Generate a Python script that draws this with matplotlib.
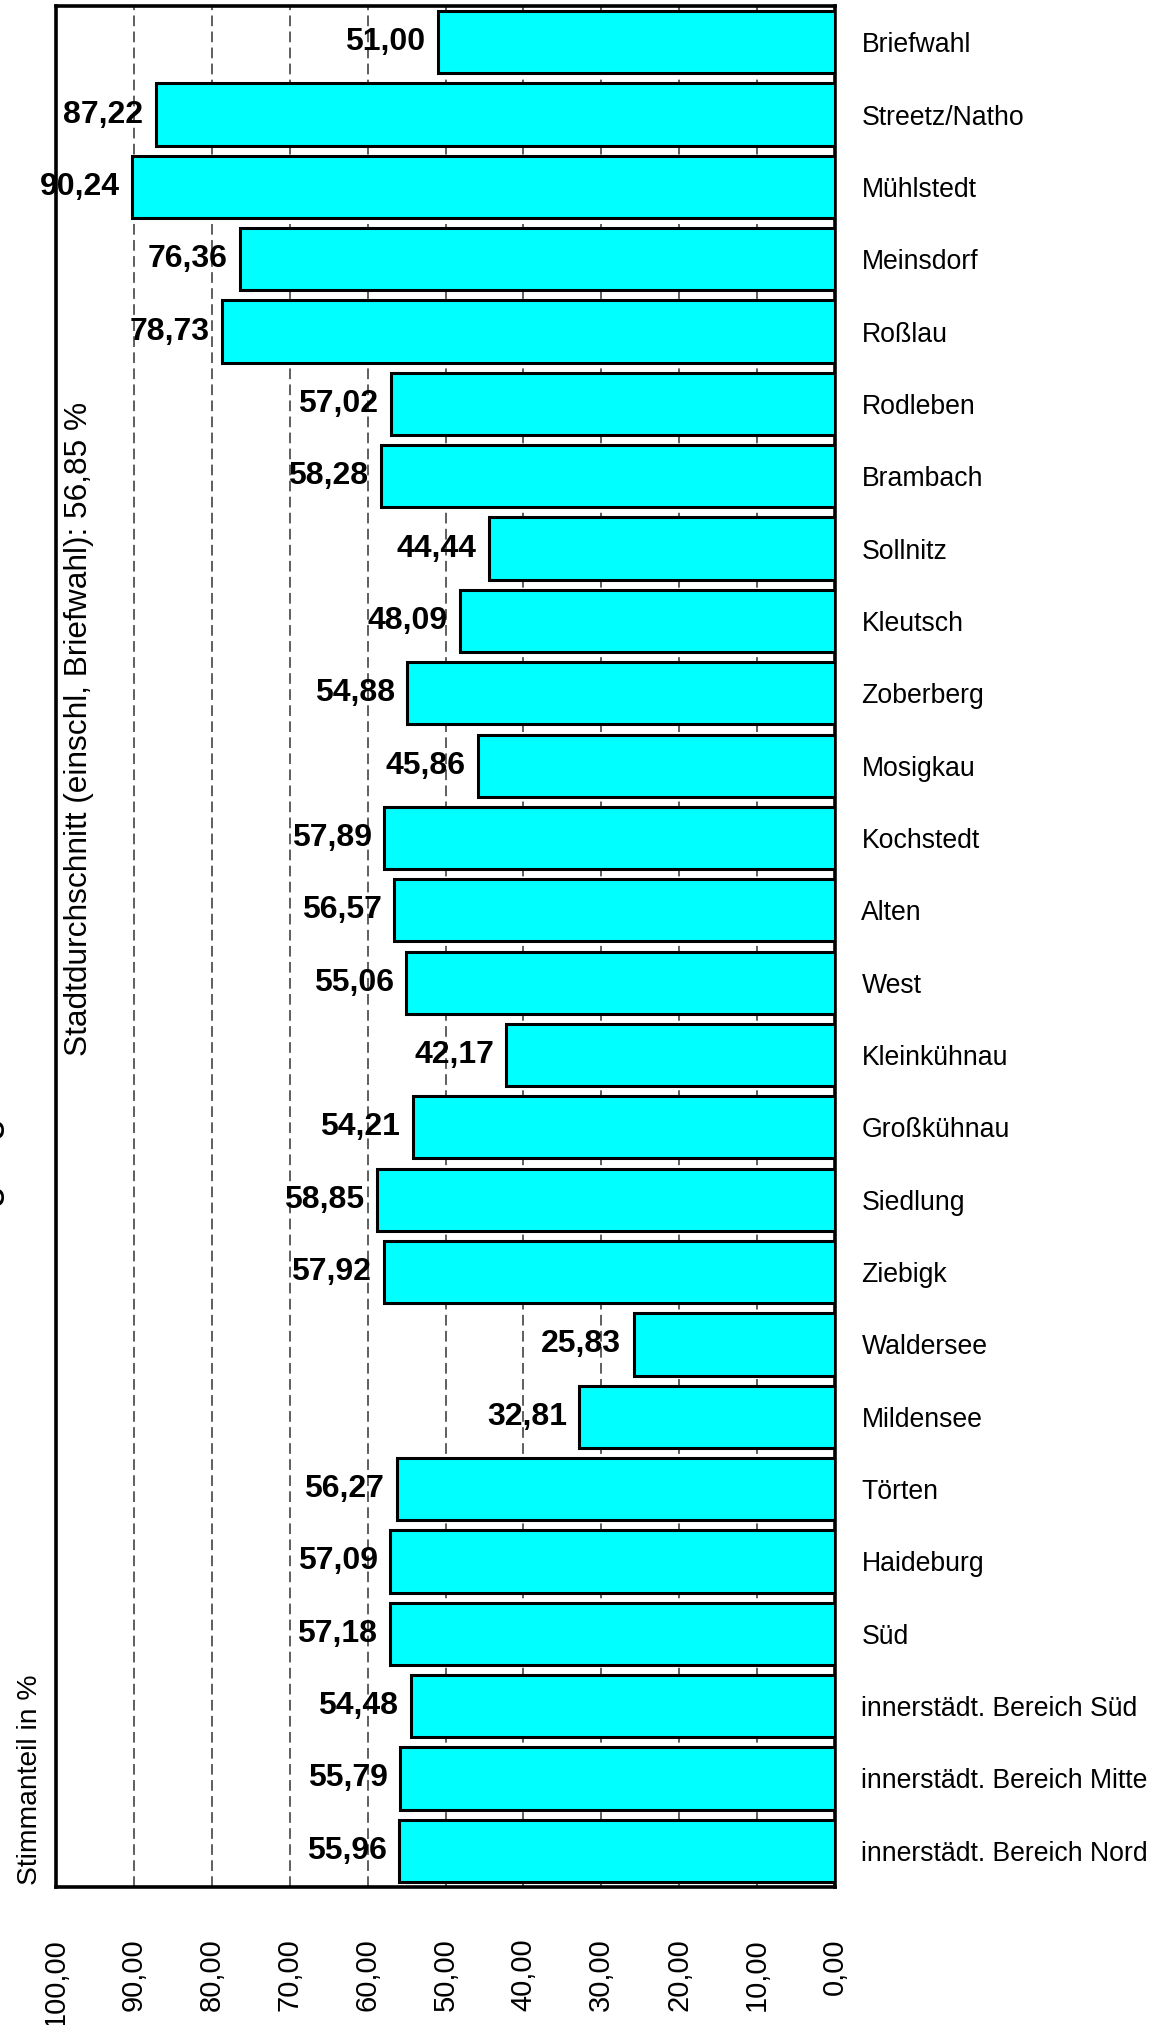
import numpy as np
import matplotlib
matplotlib.use("Agg")
import matplotlib.pyplot as plt

plt.rcParams['font.family'] = ['Liberation Sans', 'DejaVu Sans']

districts = [
    "Briefwahl", "Streetz/Natho", "Mühlstedt", "Meinsdorf", "Roßlau",
    "Rodleben", "Brambach", "Sollnitz", "Kleutsch", "Zoberberg",
    "Mosigkau", "Kochstedt", "Alten", "West", "Kleinkühnau",
    "Großkühnau", "Siedlung", "Ziebigk", "Waldersee", "Mildensee",
    "Törten", "Haideburg", "Süd", "innerstädt. Bereich Süd",
    "innerstädt. Bereich Mitte", "innerstädt. Bereich Nord",
]
turnout = [
    51.00, 87.22, 90.24, 76.36, 78.73,
    57.02, 58.28, 44.44, 48.09, 54.88,
    45.86, 57.89, 56.57, 55.06, 42.17,
    54.21, 58.85, 57.92, 25.83, 32.81,
    56.27, 57.09, 57.18, 54.48,
    55.79, 55.96,
]
x_ticks = [100, 90, 80, 70, 60, 50, 40, 30, 20, 10, 0]
city_avg = 56.85

W, H = 1162, 2025
fig = plt.figure(figsize=(W / 100, H / 100), dpi=100)
ax = fig.add_axes([56 / W, 1 - 1887 / H, (835 - 56) / W, (1887 - 6) / H])

pos = np.arange(len(districts))
ax.barh(pos, turnout, height=0.86, color='#00ffff', edgecolor='black',
        linewidth=2.2, zorder=3)

for i, v in enumerate(turnout):
    ax.annotate(f"{v:.2f}".replace('.', ','), xy=(v, i), xytext=(-9, 0),
                textcoords='offset points', ha='right', va='center',
                fontsize=23, fontweight='bold', zorder=4)

# dashed grid, only between the frame lines
for t in x_ticks[1:-1]:
    ax.axvline(t, color='#333333', lw=1.1, ls=(0, (7, 3.5)), zorder=1)

ax.set_xlim(100, 0)
ax.set_ylim(len(districts) - 0.5, -0.5)
ax.set_xticks(x_ticks)
ax.set_xticklabels([f"{t:.2f}".replace('.', ',') for t in x_ticks],
                   rotation=90, fontsize=21)
ax.tick_params(axis='x', length=0, pad=37)

ax.yaxis.tick_right()
ax.set_yticks(pos)
ax.set_yticklabels(districts, fontsize=19.2)
ax.tick_params(axis='y', length=0, pad=19)

for s in ax.spines.values():
    s.set_linewidth(2.6)

ax.text(87 / W, 1 - 1056 / H,
        f"Stadtdurchschnitt (einschl. Briefwahl): {city_avg:.2f} %".replace('.', ','),
        transform=fig.transFigure, rotation=90, rotation_mode='anchor',
        ha='left', va='baseline', fontsize=22.8)

fig.text(37 / W, 1 - 1885 / H, "Stimmanteil in %", rotation=90,
         rotation_mode='anchor', ha='left', va='baseline', fontsize=20.3)

# title mostly cut off at the left border
fig.text(-3 / W, 1 - 1116 / H, "Wahlbeteiligung", rotation=90,
         rotation_mode='anchor', ha='right', va='baseline', fontsize=29)

fig.savefig("out.png", dpi=100)
